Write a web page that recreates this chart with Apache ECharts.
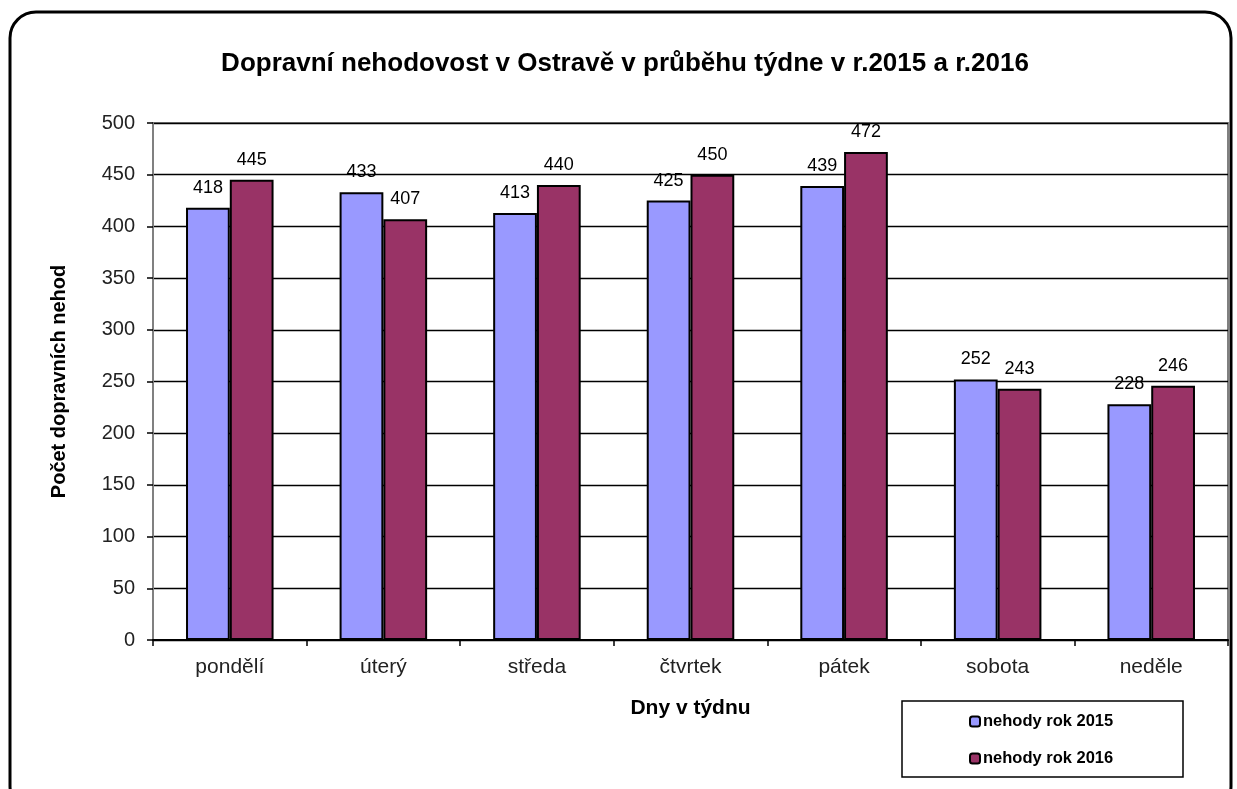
<!DOCTYPE html>
<html>
<head>
<meta charset="utf-8">
<script src="https://cdn.jsdelivr.net/npm/echarts@6/dist/echarts.min.js"></script>
<style>
  html, body { margin: 0; padding: 0; background: #fff; }
  #chart { width: 1237px; height: 789px; }
</style>
</head>
<body>
<div id="chart"></div>
<script>
// dny v tydnu
var days = ['pondělí', 'úterý', 'středa', 'čtvrtek', 'pátek', 'sobota', 'neděle']
var rok2015 = [418, 433, 413, 425, 439, 252, 228]
var rok2016 = [445, 407, 440, 450, 472, 243, 246]
var yTicks = [0, 50, 100, 150, 200, 250, 300, 350, 400, 450, 500]

var font = 'Liberation Sans, Arial, sans-serif'
var chart = echarts.init(document.getElementById('chart'))

var option = {
  animation: false,
  title: {
    text: 'Dopravní nehodovost v Ostravě v průběhu týdne v r.2015 a r.2016',
    left: 620,
    textAlign: 'center',
    top: 46,
    textStyle: { fontFamily: font, fontSize: 26, fontWeight: 'bold', color: '#000' }
  },
  graphic: [
    {
      type: 'rect',
      shape: { x: 10, y: 12, width: 1221, height: 800, r: 26 },
      style: { fill: 'none', stroke: '#000', lineWidth: 3 },
      z: -1
    },
    // ramecek legendy
    {
      type: 'rect',
      shape: { x: 902, y: 701, width: 281, height: 76 },
      style: { fill: 'none', stroke: '#000', lineWidth: 1.5 }
    }
  ],
  legend: {
    orient: 'vertical',
    left: 969,
    top: 713,
    padding: 0,
    itemGap: 20,
    itemWidth: 10,
    itemHeight: 10,
    textStyle: { fontFamily: font, fontSize: 16.5, fontWeight: 'bold', color: '#000', padding: [0, 0, 0, -2] },
    data: [
      { name: 'nehody rok 2015', itemStyle: { borderColor: '#000', borderWidth: 2 } },
      { name: 'nehody rok 2016', itemStyle: { borderColor: '#000', borderWidth: 2 } }
    ]
  },
  grid: {
    left: 153,
    right: 9,
    top: 123,
    bottom: 149,
    show: true,
    borderColor: '#808080',
    borderWidth: 2
  },
  xAxis: {
    type: 'category',
    data: days,
    name: 'Dny v týdnu',
    nameLocation: 'middle',
    nameGap: 58,
    nameTextStyle: { fontFamily: font, fontSize: 21, fontWeight: 'bold', color: '#000' },
    axisLine: { lineStyle: { color: '#000', width: 2 } },
    axisTick: { show: true, length: 6, lineStyle: { color: '#000', width: 1.5 } },
    axisLabel: { fontFamily: font, fontSize: 21, color: '#222', margin: 17 }
  },
  yAxis: {
    type: 'value',
    min: yTicks[0],
    max: yTicks[yTicks.length - 1],
    interval: 50,
    name: 'Počet dopravních nehod',
    nameLocation: 'middle',
    nameGap: 84,
    nameTextStyle: { fontFamily: font, fontSize: 20, fontWeight: 'bold', color: '#000' },
    axisLine: { show: true, lineStyle: { color: '#808080', width: 2 } },
    axisTick: { show: true, length: 6, lineStyle: { color: '#000', width: 1.5 } },
    axisLabel: { fontFamily: font, fontSize: 20, color: '#222', margin: 18 },
    splitLine: { lineStyle: { color: '#000', width: 1.3 } }
  },
  series: [
    {
      name: 'nehody rok 2015',
      type: 'bar',
      data: rok2015,
      barGap: '0%',
      barCategoryGap: '43%',
      itemStyle: { color: '#9999FF', borderColor: '#000', borderWidth: 2 },
      label: { show: true, position: 'top', distance: 11, fontFamily: font, fontSize: 18, color: '#000' }
    },
    {
      name: 'nehody rok 2016',
      type: 'bar',
      data: rok2016,
      itemStyle: { color: '#993366', borderColor: '#000', borderWidth: 2 },
      label: { show: true, position: 'top', distance: 11, fontFamily: font, fontSize: 18, color: '#000' }
    }
  ]
}

chart.setOption(option)
</script>
</body>
</html>
